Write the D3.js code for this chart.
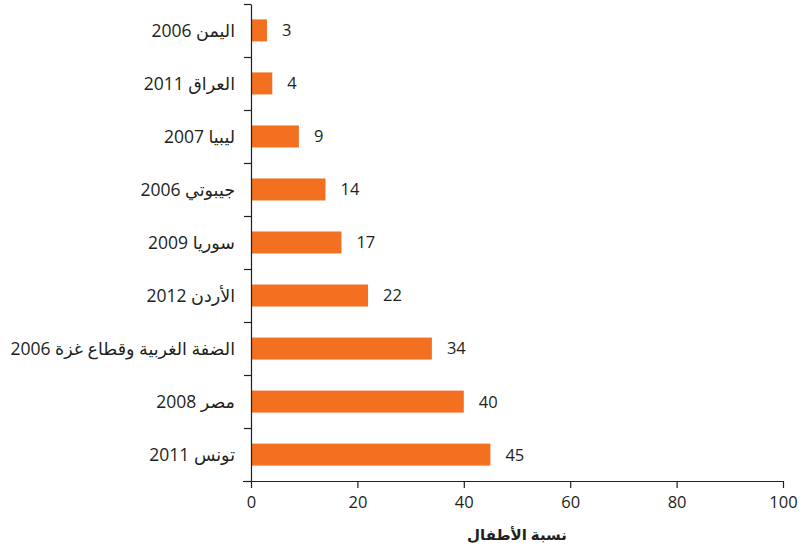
<!DOCTYPE html>
<html lang="ar">
<head>
<meta charset="utf-8">
<script src="https://cdn.jsdelivr.net/npm/d3@7"></script>
<style>
  html, body { margin: 0; padding: 0; background: #fff; }
  svg { display: block; font-family: "Open Sans", "Noto Sans", "DejaVu Sans", sans-serif; }
</style>
</head>
<body>
<svg id="chart" width="803" height="552"></svg>
<script>
// Share of children, by country and survey year
const countries = ["اليمن 2006", "العراق 2011", "ليبيا 2007", "جيبوتي 2006", "سوريا 2009",
                   "الأردن 2012", "الضفة الغربية وقطاع غزة 2006", "مصر 2008", "تونس 2011"];
const values = [3, 4, 9, 14, 17, 22, 34, 40, 45];
const xTicks = [0, 20, 40, 60, 80, 100];
const xTitle = "نسبة الأطفال";

const barColor = "#f37021";
const ink = "#231f20";

const svg = d3.select("#chart");
const plotLeft = 251, plotRight = 783, plotTop = 4, plotBottom = 481;

const x = d3.scaleLinear().domain([0, 100]).range([plotLeft, plotRight]);
const y = d3.scaleBand().domain(countries).range([plotTop, plotBottom]).paddingInner(0.585).paddingOuter(0.29);

// Band boundaries for the left axis ticks
const edges = d3.scalePoint().domain(d3.range(countries.length + 1)).range([plotTop, plotBottom]);

// Bars
svg.append("g").selectAll("rect").data(values).join("rect")
  .attr("x", x(0))
  .attr("y", (d, i) => y(countries[i]))
  .attr("width", d => x(d) - x(0))
  .attr("height", y.bandwidth())
  .attr("fill", barColor);

// Value labels
svg.append("g").selectAll("text").data(values).join("text")
  .attr("x", d => x(d) + 15)
  .attr("y", (d, i) => y(countries[i]) + y.bandwidth() / 2)
  .attr("dy", "0.36em")
  .attr("font-size", 16.5)
  .attr("fill", ink)
  .text(d => d);

// Category labels (right-to-left)
svg.append("g").selectAll("text").data(countries).join("text")
  .attr("x", 235)
  .attr("y", d => y(d) + y.bandwidth() / 2)
  .attr("dy", "0.36em")
  .attr("direction", "rtl")
  .attr("text-anchor", "start")
  .attr("font-size", 17.5)
  .attr("fill", ink)
  .text(d => d);

// Left axis with ticks between categories
const yAxis = svg.append("g")
  .attr("transform", `translate(${plotLeft},0)`)
  .call(d3.axisLeft(edges).tickSize(7).tickSizeOuter(0).tickFormat(""));
yAxis.selectAll("path, line").attr("stroke", ink).attr("stroke-width", 1.2);

// Bottom axis
const xAxis = svg.append("g")
  .attr("transform", `translate(0,${plotBottom})`)
  .call(d3.axisBottom(x).tickValues(xTicks).tickSize(7).tickSizeOuter(0).tickPadding(8));
xAxis.select(".domain").attr("d", `M${plotLeft - 8},0.5H${plotRight}`);
xAxis.selectAll("path, line").attr("stroke", ink).attr("stroke-width", 1.2);
xAxis.selectAll("text").attr("font-size", 16.5).attr("fill", ink)
  .attr("font-family", "'Open Sans', sans-serif");

// Axis title
svg.append("text")
  .attr("x", (plotLeft + plotRight) / 2)
  .attr("y", 535)
  .attr("text-anchor", "middle")
  .attr("dy", "0.35em")
  .attr("font-size", 15)
  .attr("font-weight", "bold")
  .attr("fill", ink)
  .text(xTitle);
</script>
</body>
</html>
